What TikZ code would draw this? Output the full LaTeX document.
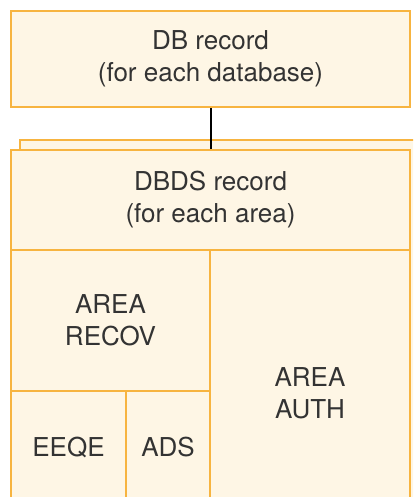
\documentclass[tikz,border=0pt]{standalone}
\usepackage{fontspec}
\setmainfont{TeX Gyre Heros}
\usepackage{xcolor}
\usepackage{tikz}
\definecolor{recfill}{HTML}{FEF6E5}
\definecolor{recedge}{HTML}{F7B440}
\definecolor{rectext}{HTML}{333333}
\tikzset{
  rec/.style={draw=recedge,fill=recfill,line width=1.2pt,text=rectext,align=center,inner sep=0pt,font=\fontsize{13}{16}\selectfont},
  lnk/.style={draw=black,line width=1pt}
}

\begin{document}
\begin{tikzpicture}[x=0.5pt,y=-0.5pt]
\useasboundingbox (0,0) rectangle (413,497);
\clip (0,0) rectangle (413,497);
\draw[rec] (20,140) rectangle (440,600);
\node[rec,minimum width=100pt,minimum height=143pt] (auth) at (310,393) {AREA\\AUTH};
\node[rec,minimum width=99.5pt,minimum height=70.5pt] (recov) at (110.5,320.5) {AREA\\RECOV};
\node[rec,minimum width=57.5pt,minimum height=56pt] (eeqe) at (68.5,447) {EEQE};
\node[rec,minimum width=42pt,minimum height=56pt] (ads) at (168,447) {ADS};
\node[rec,minimum width=199.5pt,minimum height=50pt] (dbds) at (210.5,200) {DBDS record\\(for each area)};
\node[rec,minimum width=199.5pt,minimum height=48pt] (db) at (210.5,59) {DB record\\(for each database)};
\draw[lnk] (db.south) -- (dbds.north);
\end{tikzpicture}
\end{document}
